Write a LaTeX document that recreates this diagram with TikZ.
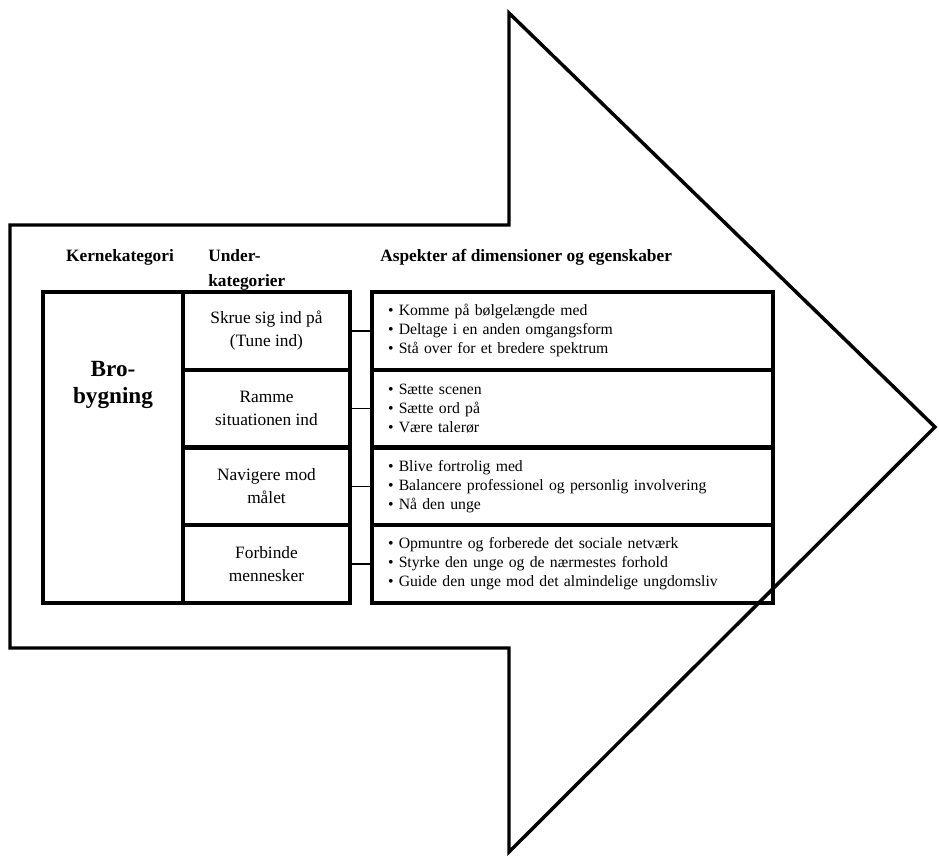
\documentclass[tikz,border=0pt]{standalone}
\usepackage{fontspec}
\setmainfont{Liberation Serif}

\begin{document}
\begin{tikzpicture}[x=0.75pt, y=-0.75pt, line join=miter,
  box/.style={draw, line width=3pt, rectangle, inner sep=0pt},
  sub/.style={box, minimum width=125.25pt, minimum height=58.3pt, align=center, font=\fontsize{13}{17.25}\selectfont},
  asp/.style={box, minimum height=58.3pt, text width=276.75pt, inner xsep=12pt, align=left, font=\fontsize{11.8}{14.25}\selectfont},
  head/.style={font=\fontsize{13}{18.75}\selectfont\bfseries, inner sep=0pt},
  link/.style={line width=1.1pt}]
\useasboundingbox (0,0) rectangle (939,856);

% Pil
\draw[line width=2.6pt] (10,225) -- (509,225) -- (509,13) -- (935,427) -- (509,852) -- (509,648) -- (10,648) -- cycle;

% Overskrifter
\node[head] (hkerne) at (120,257) {Kernekategori};
\node[head, anchor=west, align=left] (hunder) at (208,269.5) {Under-\\kategorier};
\node[head, anchor=west] (haspekt) at (380,257) {Aspekter af dimensioner og egenskaber};

% Kernekategori
\node[box, minimum width=105pt, minimum height=233.25pt] (kerne) at (113,447.5) {};
\node[font=\fontsize{17.4}{20}\selectfont\bfseries, align=center] (bro) at (113,385) {Bro-\\bygning};

% Underkategorier
\node[sub] (sub1) at (266.5,330.9) {Skrue sig ind på\\(Tune ind)};
\node[sub] (sub2) at (266.5,408.6) {Ramme\\situationen ind};
\node[sub] (sub3) at (266.5,486.4) {Navigere mod\\målet};
\node[sub] (sub4) at (266.5,564.1) {Forbinde\\mennesker};

% Aspekter
\node[asp] (asp1) at (572.5,330.9) {• Komme på bølgelængde med\\• Deltage i en anden omgangsform\\• Stå over for et bredere spektrum};
\node[asp] (asp2) at (572.5,408.6) {• Sætte scenen\\• Sætte ord på\\• Være talerør};
\node[asp] (asp3) at (572.5,486.4) {• Blive fortrolig med\\• Balancere professionel og personlig involvering\\• Nå den unge};
\node[asp] (asp4) at (572.5,564.1) {• Opmuntre og forberede det sociale netværk\\• Styrke den unge og de nærmestes forhold\\• Guide den unge mod det almindelige ungdomsliv};

% Forbindelser
\draw[link] (sub1.east) -- (asp1.west);
\draw[link] (sub2.east) -- (asp2.west);
\draw[link] (sub3.east) -- (asp3.west);
\draw[link] (sub4.east) -- (asp4.west);
\end{tikzpicture}
\end{document}
